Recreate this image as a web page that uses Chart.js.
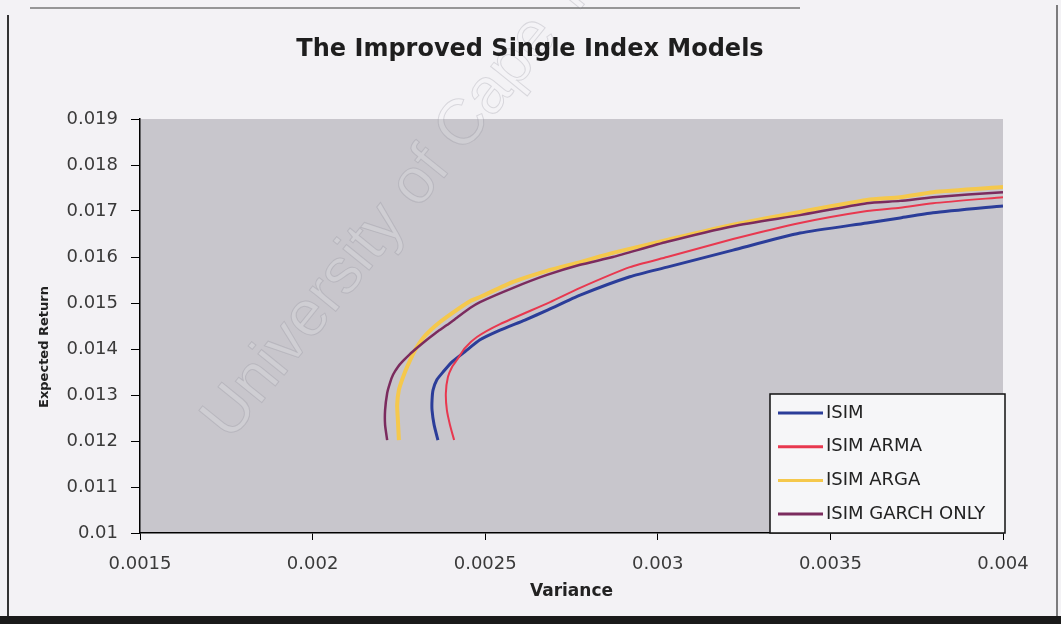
<!DOCTYPE html>
<html><head><meta charset="utf-8">
<script src="https://cdn.jsdelivr.net/npm/chart.js@4/dist/chart.umd.min.js"></script>
<style>html,body{margin:0;padding:0;background:#f3f2f5;}#wrap{width:1061px;height:624px;position:relative;}</style>
</head><body><div id="wrap"><canvas id="c" width="1061" height="624"></canvas></div>
<script>
const chartTitle = 'The Improved Single Index Models';
const xTitle = 'Variance';
const yTitle = 'Expected Return';
const watermarkText = 'University of Cape Town';
const xTickValues = [0.0015, 0.002, 0.0025, 0.003, 0.0035, 0.004];
const xTickLabels = ['0.0015', '0.002', '0.0025', '0.003', '0.0035', '0.004'];
const yTickValues = [0.01, 0.011, 0.012, 0.013, 0.014, 0.015, 0.016, 0.017, 0.018, 0.019];
const yTickLabels = ['0.01', '0.011', '0.012', '0.013', '0.014', '0.015', '0.016', '0.017', '0.018', '0.019'];
const seriesNames = ['ISIM', 'ISIM ARMA', 'ISIM ARGA', 'ISIM GARCH ONLY'];

const isimVar = [0.002363,0.002352,0.002346,0.002346,0.002349,0.002360,0.002378,0.002404,0.002441,0.002485,0.002543,0.002615,0.002682,0.002775,0.002919,0.003027,0.003218,0.003412,0.003606,0.003702,0.003797,0.004000];
const isimRet = [0.01202,0.01235,0.01267,0.01289,0.01311,0.01333,0.01350,0.01372,0.01394,0.01420,0.01441,0.01463,0.01485,0.01517,0.01557,0.01578,0.01615,0.01652,0.01674,0.01685,0.01696,0.01711];

const armaVar = [0.002410,0.002398,0.002389,0.002386,0.002392,0.002404,0.002418,0.002441,0.002476,0.002543,0.002688,0.002775,0.002919,0.003027,0.003218,0.003412,0.003606,0.003702,0.003797,0.004000];
const armaRet = [0.01202,0.01235,0.01267,0.01304,0.01339,0.01361,0.01376,0.01402,0.01426,0.01454,0.01502,0.01533,0.01578,0.01600,0.01639,0.01674,0.01700,0.01707,0.01717,0.01730];

const argaVar = [0.002250,0.002247,0.002245,0.002250,0.002262,0.002276,0.002297,0.002320,0.002355,0.002389,0.002456,0.002485,0.002581,0.002679,0.002775,0.002870,0.003027,0.003218,0.003412,0.003606,0.003702,0.003797,0.004000];
const argaRet = [0.01202,0.01246,0.01278,0.01311,0.01339,0.01365,0.01398,0.01424,0.01450,0.01470,0.01504,0.01513,0.01546,0.01570,0.01589,0.01609,0.01637,0.01670,0.01698,0.01724,0.01730,0.01741,0.01752];

const garchVar = [0.002216,0.002210,0.002210,0.002216,0.002224,0.002233,0.002247,0.002262,0.002282,0.002302,0.002331,0.002360,0.002389,0.002418,0.002456,0.002485,0.002581,0.002679,0.002775,0.002870,0.003027,0.003218,0.003412,0.003606,0.003702,0.003797,0.004000];
const garchRet = [0.01202,0.01235,0.01267,0.01304,0.01326,0.01344,0.01361,0.01374,0.01389,0.01402,0.01420,0.01437,0.01452,0.01468,0.01489,0.01502,0.01533,0.01561,0.01583,0.01600,0.01633,0.01667,0.01691,0.01717,0.01722,0.01730,0.01741];

const pts = (xs, ys) => xs.map((x, i) => ({x: x, y: ys[i]}));

const bgPlugin = {
  id: 'bg',
  beforeDraw(chart) {
    const ctx = chart.ctx, ca = chart.chartArea;
    ctx.save();
    ctx.fillStyle = '#f3f2f5';
    ctx.fillRect(0, 0, chart.width, chart.height);
    ctx.strokeStyle = '#777'; ctx.lineWidth = 1.5;
    ctx.beginPath(); ctx.moveTo(30, 8); ctx.lineTo(800, 8); ctx.stroke();
    ctx.strokeStyle = '#333'; ctx.lineWidth = 2;
    ctx.beginPath(); ctx.moveTo(8, 15); ctx.lineTo(8, 617); ctx.stroke();
    ctx.strokeStyle = '#555'; ctx.lineWidth = 1.5;
    ctx.beginPath(); ctx.moveTo(1057, 5); ctx.lineTo(1057, 617); ctx.stroke();
    ctx.fillStyle = '#1a1a1a';
    ctx.fillRect(0, 616, chart.width, 8);
    ctx.fillStyle = '#c8c6cc';
    ctx.fillRect(ca.left, ca.top, ca.right - ca.left, ca.bottom - ca.top);
    ctx.restore();
  },
  beforeDatasetsDraw(chart) {
    const ctx = chart.ctx;
    ctx.save();
    ctx.translate(230, 442);
    ctx.rotate(-51 * Math.PI / 180);
    ctx.font = '64px "Liberation Sans"';
    ctx.fillStyle = 'rgba(255,255,255,0.14)';
    ctx.strokeStyle = 'rgba(120,120,130,0.22)';
    ctx.lineWidth = 1;
    ctx.fillText(watermarkText, 0, 0);
    ctx.strokeText(watermarkText, 0, 0);
    ctx.restore();
  },
  afterDraw(chart) {
    const ctx = chart.ctx, ca = chart.chartArea;
    ctx.save();
    ctx.font = 'bold 24px "DejaVu Sans"';
    ctx.fillStyle = '#1e1e1e';
    ctx.textAlign = 'center';
    ctx.textBaseline = 'middle';
    ctx.fillText(chartTitle, 530, 50);
    ctx.save();
    ctx.translate(45, 347);
    ctx.rotate(-Math.PI / 2);
    ctx.font = 'bold 13px "DejaVu Sans"';
    ctx.fillStyle = '#222';
    ctx.fillText(yTitle, 0, 0);
    ctx.restore();
    const lw = 235, lh = 139;
    const lx = ca.right + 2 - lw, ly = ca.bottom - lh;
    ctx.fillStyle = '#f6f6f8';
    ctx.fillRect(lx, ly, lw, lh);
    ctx.strokeStyle = '#111'; ctx.lineWidth = 1.5;
    ctx.strokeRect(lx, ly, lw, lh);
    ctx.font = '18px "DejaVu Sans"';
    ctx.textAlign = 'left';
    chart.data.datasets.forEach((ds, i) => {
      const y = ly + 19 + i * 33.7;
      ctx.strokeStyle = ds.borderColor; ctx.lineWidth = 3;
      ctx.beginPath(); ctx.moveTo(lx + 8, y); ctx.lineTo(lx + 53, y); ctx.stroke();
      ctx.fillStyle = '#222';
      ctx.fillText(ds.label, lx + 56, y);
    });
    ctx.restore();
  }
};

const datasets = [
  {label: seriesNames[0], data: pts(isimVar, isimRet), borderColor: '#2b3d99', borderWidth: 3, order: 3},
  {label: seriesNames[1], data: pts(armaVar, armaRet), borderColor: '#e8384f', borderWidth: 2, order: 2},
  {label: seriesNames[2], data: pts(argaVar, argaRet), borderColor: '#f5c84c', borderWidth: 4, order: 1},
  {label: seriesNames[3], data: pts(garchVar, garchRet), borderColor: '#7b2b5e', borderWidth: 2.5, order: 0}
].map(d => Object.assign(d, {showLine: true, pointRadius: 0, fill: false, tension: 0.2, backgroundColor: d.borderColor}));

new Chart(document.getElementById('c'), {
  type: 'scatter',
  data: {datasets},
  plugins: [bgPlugin],
  options: {
    responsive: false,
    animation: false,
    layout: {padding: {top: 119, right: 58, bottom: 0, left: 0}},
    plugins: {legend: {display: false}, title: {display: false}, tooltip: {enabled: false}},
    scales: {
      x: {
        type: 'linear', position: 'bottom', min: 0.0015, max: 0.004,
        afterBuildTicks: s => { s.ticks = xTickValues.map(v => ({value: v})); },
        afterFit: s => { s.height = 91; },
        ticks: {callback: (v, i) => xTickLabels[i], font: {family: 'DejaVu Sans', size: 18}, color: '#3a3a3a', padding: 14, maxRotation: 0, autoSkip: false},
        grid: {drawOnChartArea: false, drawTicks: true, tickLength: 7, color: '#000', lineWidth: 1},
        border: {display: true, color: '#000', width: 1.5},
        title: {display: true, text: xTitle, font: {family: 'DejaVu Sans', size: 17, weight: 'bold'}, color: '#222', padding: {top: 0, bottom: 22}}
      },
      y: {
        type: 'linear', position: 'left', min: 0.01, max: 0.019,
        afterBuildTicks: s => { s.ticks = yTickValues.map(v => ({value: v})); },
        afterFit: s => { s.width = 140; },
        ticks: {callback: (v, i) => yTickLabels[i], font: {family: 'DejaVu Sans', size: 18}, color: '#3a3a3a', padding: 13, autoSkip: false},
        grid: {drawOnChartArea: false, drawTicks: true, tickLength: 9, color: '#000', lineWidth: 1},
        border: {display: true, color: '#000', width: 1.5},
        title: {display: false}
      }
    }
  }
});
</script></body></html>
